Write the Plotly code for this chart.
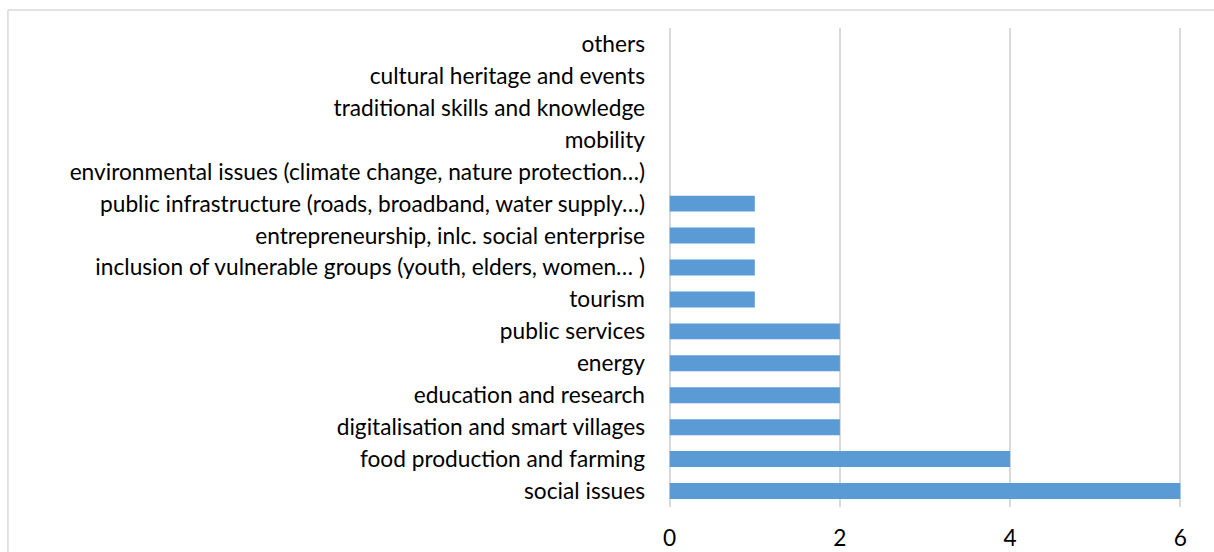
import plotly.graph_objects as go

# Topics (bottom to top) and number of mentions
topics = [
    "social issues",
    "food production and farming",
    "digitalisation and smart villages",
    "education and research",
    "energy",
    "public services",
    "tourism",
    "inclusion of vulnerable groups (youth, elders, women… )",
    "entrepreneurship, inlc. social enterprise",
    "public infrastructure (roads, broadband, water supply…)",
    "environmental issues (climate change, nature protection…)",
    "mobility",
    "traditional skills and knowledge",
    "cultural heritage and events",
    "others",
]
counts = [6, 4, 2, 2, 2, 2, 1, 1, 1, 1, 0, 0, 0, 0, 0]
x_ticks = [0, 2, 4, 6]

W, H = 1214, 552
# value axis runs from x=670 (0) to x=1180 (6); a small pad keeps the
# edge gridlines visible
PAD = 0.02
PX_PER_UNIT = (1180 - 670) / 6
ML = 670 - PAD * PX_PER_UNIT
MR = (W - 1180) - PAD * PX_PER_UNIT
MT, MB = 28, 45

fig = go.Figure(
    go.Bar(
        x=counts,
        y=topics,
        orientation="h",
        marker=dict(color="#5b9bd5", line=dict(width=0)),
    )
)

pw = W - ML - MR
ph = H - MT - MB
# outer chart-area frame (top and left edges visible)
frame_x0 = (9 - ML) / pw
frame_y1 = 1 + (MT - 10) / ph
fig.add_shape(type="line", xref="paper", yref="paper",
              x0=frame_x0, x1=(W - ML) / pw + 0.01, y0=frame_y1, y1=frame_y1,
              line=dict(color="#d9d9d9", width=1.5))
fig.add_shape(type="line", xref="paper", yref="paper",
              x0=frame_x0, x1=frame_x0, y0=frame_y1, y1=-MB / ph - 0.01,
              line=dict(color="#d9d9d9", width=1.5))

fig.update_layout(
    width=W,
    height=H,
    margin=dict(l=ML, r=MR, t=MT, b=MB),
    paper_bgcolor="white",
    plot_bgcolor="white",
    bargap=0.5,
    showlegend=False,
    font=dict(family="Lato, Open Sans, sans-serif", size=22.7, color="#000000"),
    xaxis=dict(
        range=[-PAD, 6 + PAD],
        tickvals=x_ticks,
        showgrid=True,
        gridcolor="#d9d9d9",
        gridwidth=1.5,
        zeroline=False,
        showline=False,
        ticks="",
        ticklabelstandoff=15,
        automargin=False,
        fixedrange=True,
    ),
    yaxis=dict(
        categoryorder="array",
        categoryarray=topics,
        showgrid=False,
        zeroline=False,
        showline=False,
        ticks="",
        ticklabelstandoff=22,
        automargin=False,
        fixedrange=True,
    ),
)

fig.write_html("out.html")
